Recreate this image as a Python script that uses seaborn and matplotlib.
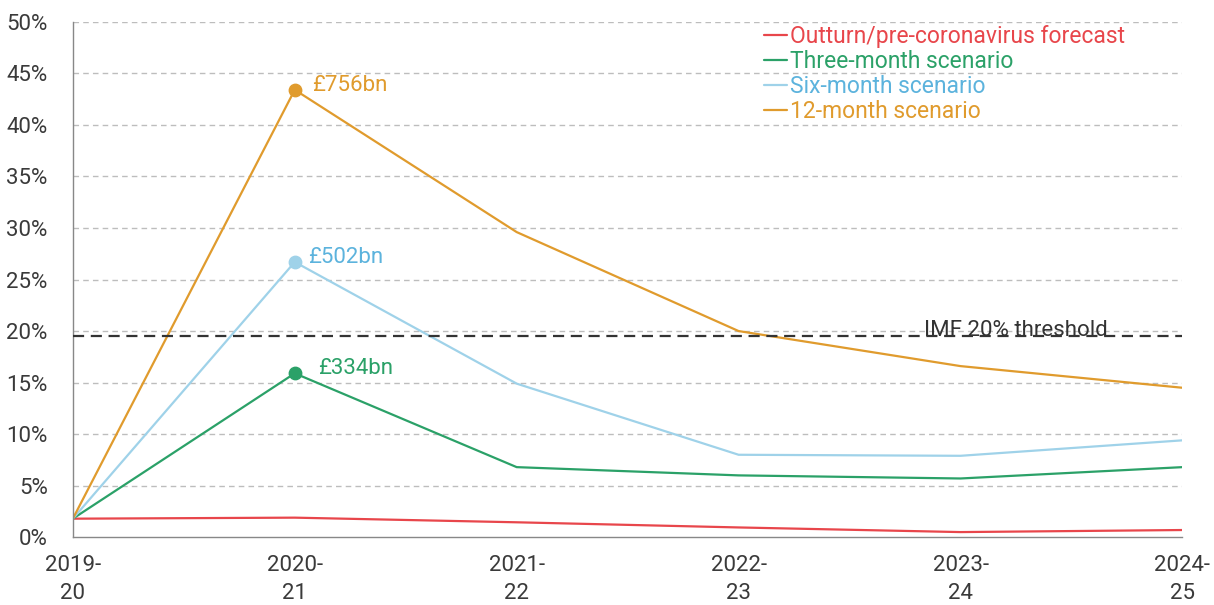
import pandas as pd
import seaborn as sns
import matplotlib.pyplot as plt

# data (% of GDP)
years = ["2019-\n20", "2020-\n21", "2021-\n22", "2022-\n23", "2023-\n24", "2024-\n25"]
outturn = [1.8, 1.9, 1.45, 0.95, 0.5, 0.7]
three_month = [1.8, 15.9, 6.8, 6.0, 5.7, 6.8]
six_month = [1.8, 26.7, 14.9, 8.0, 7.9, 9.4]
twelve_month = [1.8, 43.4, 29.6, 20.0, 16.6, 14.5]

series_names = ["Outturn/pre-coronavirus forecast", "Three-month scenario",
                "Six-month scenario", "12-month scenario"]
line_colors = ["#E8464B", "#2BA168", "#9FD2E9", "#E09B2D"]
text_colors = ["#E8464B", "#2BA168", "#5CB3DD", "#E09B2D"]

peak_labels = ["£334bn", "£502bn", "£756bn"]
imf_threshold = 19.5

rows = []
for name, vals in zip(series_names, [outturn, three_month, six_month, twelve_month]):
    for i, v in enumerate(vals):
        rows.append({"x": i, "year": years[i], "value": v, "series": name})
df = pd.DataFrame(rows)

sns.set_style("white")
plt.rcParams['font.family'] = ['Roboto', 'DejaVu Sans']

fig = plt.figure(figsize=(12.14, 6.05), dpi=100)
ax = fig.add_axes([0.060, 0.112, 0.914, 0.852])

# gridlines
for g in range(5, 55, 5):
    ax.axhline(g, color="#BDBDBD", lw=1, ls=(0, (4, 3)), zorder=0)

sns.lineplot(data=df, x="x", y="value", hue="series", hue_order=series_names,
             palette=line_colors, linewidth=1.6, ax=ax, legend=False)

# peak markers and labels
peak_series = [three_month, six_month, twelve_month]
label_dx = [0.105, 0.06, 0.08]
for vals, lc, tc, lab, dx in zip(peak_series, line_colors[1:], text_colors[1:], peak_labels, label_dx):
    ax.scatter([1], [vals[1]], s=80, color=lc, zorder=5)
    ax.text(1 + dx, vals[1] + 0.45, lab, color=tc, fontsize=16, va="center", ha="left")

# IMF threshold
ax.axhline(imf_threshold, color="#333333", lw=1.6, ls=(0, (5, 3)), zorder=3)
ax.text(4.25, imf_threshold + 0.6, "IMF 20% threshold", color="#333333",
        fontsize=16, ha="center", va="center", zorder=4)

ax.set_xlim(0, 5)
ax.set_ylim(0, 50)
ax.set_xticks(range(len(years)))
ax.set_xticklabels(years, fontsize=16, color="#3a3a3a", linespacing=1.4)
ax.set_yticks(range(0, 55, 5))
ax.set_yticklabels([f"{v}%" for v in range(0, 55, 5)], fontsize=16, color="#3a3a3a")
ax.set_xlabel("")
ax.set_ylabel("")
ax.tick_params(axis="both", length=6, color="#888888", width=1, direction="out")
ax.tick_params(axis="x", pad=7)
ax.tick_params(axis="y", pad=12)

for side in ["top", "right"]:
    ax.spines[side].set_visible(False)
for side in ["left", "bottom"]:
    ax.spines[side].set_color("#888888")
    ax.spines[side].set_linewidth(1)

# legend with coloured text
handles = [plt.Line2D([], [], color=c, lw=1.6) for c in line_colors]
leg = ax.legend(handles, series_names, loc="upper left", bbox_to_anchor=(0.615, 1.012),
                frameon=False, fontsize=16.5, handlelength=1.0, handletextpad=0.1,
                labelspacing=0.09, borderaxespad=0.0, labelcolor=text_colors)

fig.savefig("out.png", dpi=100)
